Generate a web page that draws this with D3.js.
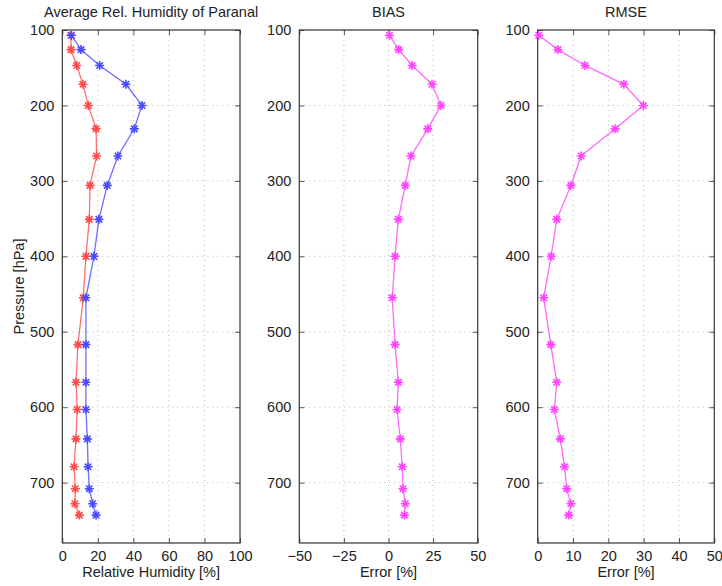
<!DOCTYPE html>
<html><head><meta charset="utf-8">
<script src="https://cdn.jsdelivr.net/npm/d3@7"></script>
<style>
body{margin:0;background:#fff;}
svg{display:block;font-family:"Liberation Sans",Arial,Helvetica,sans-serif;}
</style></head>
<body><svg id="c" width="722" height="586"></svg>
<script>
// ---- data ----
const pressure = [107,126,147,172,200,231,267,306,351,400,455,517,567,603,642,679,708,728,743];
const rhModel  = [4.9,4.9,8.1,11.6,14.6,19.0,19.3,15.6,15.2,13.3,11.8,8.8,7.7,8.4,7.7,6.6,7.3,7.1,9.6];
const rhObs    = [5.1,10.5,21.0,35.8,44.8,40.5,31.3,25.3,20.6,17.8,13.3,13.3,13.3,13.3,14.1,14.5,15.2,17.1,19.0];
const bias     = [0.5,5.7,13.3,24.4,29.4,22.0,12.6,9.4,5.5,3.7,2.1,3.7,5.5,4.8,6.6,7.7,8.1,9.4,8.9];
const rmse     = [0.3,5.7,13.4,24.4,29.9,21.9,12.3,9.4,5.4,3.8,1.7,3.7,5.4,4.7,6.4,7.6,8.2,9.4,8.8];
const yTicks   = [100,200,300,400,500,600,700];
const xTicksRH = [0,20,40,60,80,100];
const xTicksBias = [-50,-25,0,25,50];
const xTicksRmse = [0,10,20,30,40,50];
const titles   = ["Average Rel. Humidity of Paranal","BIAS","RMSE"];
const xLabels  = ["Relative Humidity [%]","Error [%]","Error [%]"];

const FS = 14.5;
const svg = d3.select("#c");
const yTop = 30, yBot = 543;
const y = d3.scaleLinear().domain([100,780]).range([yTop,yBot]);

const panels = [
  {x0:62.3, x1:240, dom:[0,100], ticks:xTicksRH, series:[{v:rhModel,c:"#ff4a4a"},{v:rhObs,c:"#4a4aff"}]},
  {x0:299.3, x1:477.7, dom:[-50,50], ticks:xTicksBias, series:[{v:bias,c:"#ff44ff"}]},
  {x0:537.7, x1:714.3, dom:[0,50], ticks:xTicksRmse, series:[{v:rmse,c:"#ff44ff"}]}
];

function star(s){
  const h=s/2, d=h*0.72;
  return `M${-h},0L${h},0M0,${-h}L0,${h}M${-d},${-d}L${d},${d}M${-d},${d}L${d},${-d}`;
}

panels.forEach((p,i)=>{
  const x = d3.scaleLinear().domain(p.dom).range([p.x0,p.x1]);
  const g = svg.append("g");
  // grid
  g.selectAll(".gx").data(p.ticks.filter(t=>t!==p.dom[0]&&t!==p.dom[1])).enter().append("line")
    .attr("x1",d=>x(d)).attr("x2",d=>x(d)).attr("y1",yTop).attr("y2",yBot)
    .attr("stroke","#b8b8b8").attr("stroke-width",1).attr("stroke-dasharray","1,4");
  g.selectAll(".gy").data(yTicks.filter(t=>t!==100)).enter().append("line")
    .attr("x1",p.x0).attr("x2",p.x1).attr("y1",d=>y(d)).attr("y2",d=>y(d))
    .attr("stroke","#b8b8b8").attr("stroke-width",1).attr("stroke-dasharray","1,4");
  // axes with inward ticks
  const ax = d3.axisBottom(x).tickValues(p.ticks).tickSizeInner(-5).tickSizeOuter(0).tickPadding(8)
     .tickFormat(d=> d<0 ? "\u2212"+Math.abs(d) : d);
  const gb = g.append("g").attr("transform",`translate(0,${yBot})`).call(ax);
  const at = d3.axisTop(x).tickValues(p.ticks).tickSizeInner(-5).tickSizeOuter(0).tickFormat("");
  const gt = g.append("g").attr("transform",`translate(0,${yTop})`).call(at);
  const ay = d3.axisLeft(y).tickValues(yTicks).tickSizeInner(-5).tickSizeOuter(0).tickPadding(8);
  const gl = g.append("g").attr("transform",`translate(${p.x0},0)`).call(ay);
  const ar = d3.axisRight(y).tickValues(yTicks).tickSizeInner(-5).tickSizeOuter(0).tickFormat("");
  const gr = g.append("g").attr("transform",`translate(${p.x1},0)`).call(ar);
  [gb,gt,gl,gr].forEach(a=>{
    a.select(".domain").remove();
    a.selectAll(".tick line").attr("stroke","#555");
    a.selectAll("text").attr("font-size",FS).attr("fill","#222").attr("font-family","Liberation Sans, Arial, sans-serif");
  });
  gb.selectAll("text").attr("dy","0.71em");
  g.append("rect").attr("x",p.x0).attr("y",yTop).attr("width",p.x1-p.x0).attr("height",yBot-yTop)
    .attr("fill","none").attr("stroke","#333").attr("stroke-width",1.2);
  // series
  p.series.forEach(s=>{
    const pts = pressure.map((pp,k)=>[x(s.v[k]), y(pp)]);
    g.append("path").attr("d",d3.line()(pts)).attr("fill","none")
      .attr("stroke",s.c).attr("stroke-width",1.3).attr("stroke-opacity",0.8);
    g.selectAll(null).data(pts).enter().append("path")
      .attr("transform",d=>`translate(${d[0]},${d[1]})`).attr("d",star(9))
      .attr("stroke",s.c).attr("stroke-width",1.6).attr("fill","none");
  });
  // titles and labels
  svg.append("text").attr("x",(p.x0+p.x1)/2).attr("y",16.5).attr("text-anchor","middle")
    .attr("font-size",FS).attr("fill","#222").text(titles[i]);
  svg.append("text").attr("x",(p.x0+p.x1)/2).attr("y",577).attr("text-anchor","middle")
    .attr("font-size",FS).attr("fill","#222").text(xLabels[i]);
});
svg.append("text").attr("transform",`translate(24,${(yTop+yBot)/2}) rotate(-90)`)
  .attr("text-anchor","middle").attr("font-size",FS).attr("fill","#222").text("Pressure [hPa]");
</script></body></html>
